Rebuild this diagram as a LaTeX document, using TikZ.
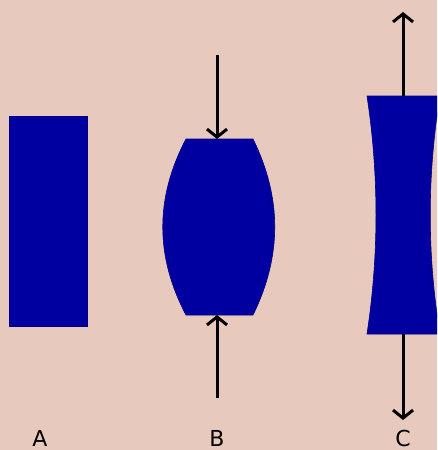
\documentclass[tikz,border=0pt]{standalone}
\usepackage{fontspec}
\setmainfont{DejaVu Sans}
\usetikzlibrary{arrows.meta,positioning}
\definecolor{bgpink}{HTML}{E8C9BE}
\definecolor{solid}{HTML}{0000A0}

\begin{document}
\begin{tikzpicture}[x=1pt,y=-1pt,
  body/.style={fill=solid, draw=solid!80!black, line width=0.6pt},
  force/.style={line width=3pt, -{Straight Barb[length=8pt,width=20pt,line width=3pt]}},
  lbl/.style={font=\fontsize{22}{22}\selectfont, anchor=base}
]
  \fill[bgpink] (0,0) rectangle (437,450);
  \useasboundingbox (0,0) rectangle (437,450);

  % A: unloaded
  \node[body, rectangle, minimum width=78pt, minimum height=210pt, inner sep=0pt] (A) at (48,221) {};

  % B: compressed
  \draw[body] (186,139) -- (253,139) .. controls (282,198) and (282,256) .. (253,315)
    -- (186,315) .. controls (155,256) and (155,198) .. (186,139) -- cycle;
  \coordinate (Btop) at (217,139);
  \coordinate (Bbot) at (217,315);
  \coordinate (Bin1) at (217,55);
  \coordinate (Bin2) at (217,398);
  \draw[force] (Bin1) -- (Btop);
  \draw[force] (Bin2) -- (Bbot);

  % C: stretched
  \begin{scope}
    \clip (0,0) rectangle (437,450);
    \draw[body] (367,96) -- (440,96) .. controls (427,175) and (427,255) .. (440,334)
      -- (367,334) .. controls (379,255) and (379,175) .. (367,96) -- cycle;
  \end{scope}
  \coordinate (Ctop) at (403,96);
  \coordinate (Cbot) at (403,334);
  \coordinate (Cout1) at (403,12);
  \coordinate (Cout2) at (403,420);
  \draw[force] (Ctop) -- (Cout1);
  \draw[force] (Cbot) -- (Cout2);

  \node[lbl] (la) at (40,446) {A};
  \node[lbl] (lb) at (217,446) {B};
  \node[lbl] (lc) at (403,446) {C};
\end{tikzpicture}
\end{document}
